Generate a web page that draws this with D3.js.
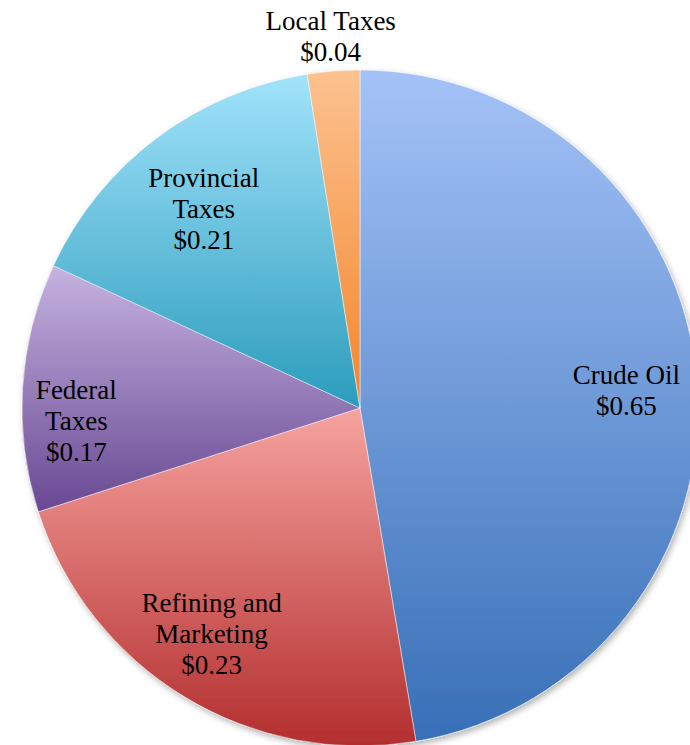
<!DOCTYPE html>
<html>
<head>
<meta charset="utf-8">
<script src="https://cdn.jsdelivr.net/npm/d3@7"></script>
<style>
  body { margin: 0; background: #fff; }
  svg { display: block; }
</style>
</head>
<body>
<div id="chart"></div>
<script>
// slice data, clockwise from 12 o'clock
const categories = ["Crude Oil", "Refining and Marketing", "Federal Taxes", "Provincial Taxes", "Local Taxes"];
const labelLines = [["Crude Oil"], ["Refining and", "Marketing"], ["Federal", "Taxes"], ["Provincial", "Taxes"], ["Local Taxes"]];
const prices = [0.65, 0.23, 0.17, 0.21, 0.04];
// share of the circle each slice takes in the picture (%)
const shares = [47.4, 22.7, 11.9, 15.6, 2.5];

const topColors = ["#a4c2f7", "#f6a39f", "#c6b3e0", "#a2e3fb", "#fcc290"];
const bottomColors = ["#376fb7", "#b32e2e", "#684893", "#2b9cbc", "#f2852a"];

const width = 690, height = 745;
const cx = 360, cy = 408, radius = 338;

// label placement (fraction of radius, angle nudge in degrees)
const labelRadius = [0.79, 0.80, 0.84, 0.75, 1.105];
const labelNudge = [1, 2, -6, -1, 0];
const lineHeight = 31;

const fmt = d3.format("$.2f");

const svg = d3.select("#chart").append("svg")
  .attr("width", width)
  .attr("height", height);

const defs = svg.append("defs");

defs.append("filter")
  .attr("id", "shadow")
  .attr("x", "-10%").attr("y", "-10%")
  .attr("width", "120%").attr("height", "120%")
  .append("feDropShadow")
  .attr("dx", 2).attr("dy", 3)
  .attr("stdDeviation", 3)
  .attr("flood-color", "#000")
  .attr("flood-opacity", 0.3);

categories.forEach((c, i) => {
  const g = defs.append("linearGradient")
    .attr("id", "grad" + i)
    .attr("x1", 0).attr("y1", 0).attr("x2", 0).attr("y2", 1);
  g.append("stop").attr("offset", "0%").attr("stop-color", topColors[i]);
  g.append("stop").attr("offset", "100%").attr("stop-color", bottomColors[i]);
});

const data = categories.map((c, i) => ({ i: i, name: c, share: shares[i], price: prices[i] }));

const pie = d3.pie()
  .sort(null)
  .value(d => d.share)
  .startAngle(0)
  .endAngle(2 * Math.PI);

const arc = d3.arc().innerRadius(0).outerRadius(radius);

const arcs = pie(data);

const g = svg.append("g")
  .attr("transform", `translate(${cx},${cy})`);

g.append("g")
  .attr("filter", "url(#shadow)")
  .selectAll("path")
  .data(arcs)
  .enter().append("path")
  .attr("d", arc)
  .attr("fill", d => `url(#grad${d.data.i})`)
  .attr("stroke", "#fff")
  .attr("stroke-opacity", 0.6)
  .attr("stroke-width", 0.8);

const labels = g.append("g")
  .attr("font-family", "'Liberation Serif', 'Times New Roman', serif")
  .attr("font-size", 27)
  .attr("fill", "#000")
  .attr("text-anchor", "middle")
  .selectAll("text")
  .data(arcs)
  .enter().append("text")
  .attr("transform", d => {
    const i = d.data.i;
    const a = (d.startAngle + d.endAngle) / 2 + labelNudge[i] * Math.PI / 180;
    const p = d3.pointRadial(a, radius * labelRadius[i]);
    return `translate(${p[0]},${p[1]})`;
  });

labels.each(function (d) {
  const lines = labelLines[d.data.i].concat([fmt(d.data.price)]);
  const t = d3.select(this);
  const y0 = -(lines.length - 1) * lineHeight / 2;
  lines.forEach((s, k) => {
    t.append("tspan")
      .attr("x", 0)
      .attr("y", y0 + k * lineHeight)
      .attr("dy", "0.35em")
      .text(s);
  });
});
</script>
</body>
</html>
